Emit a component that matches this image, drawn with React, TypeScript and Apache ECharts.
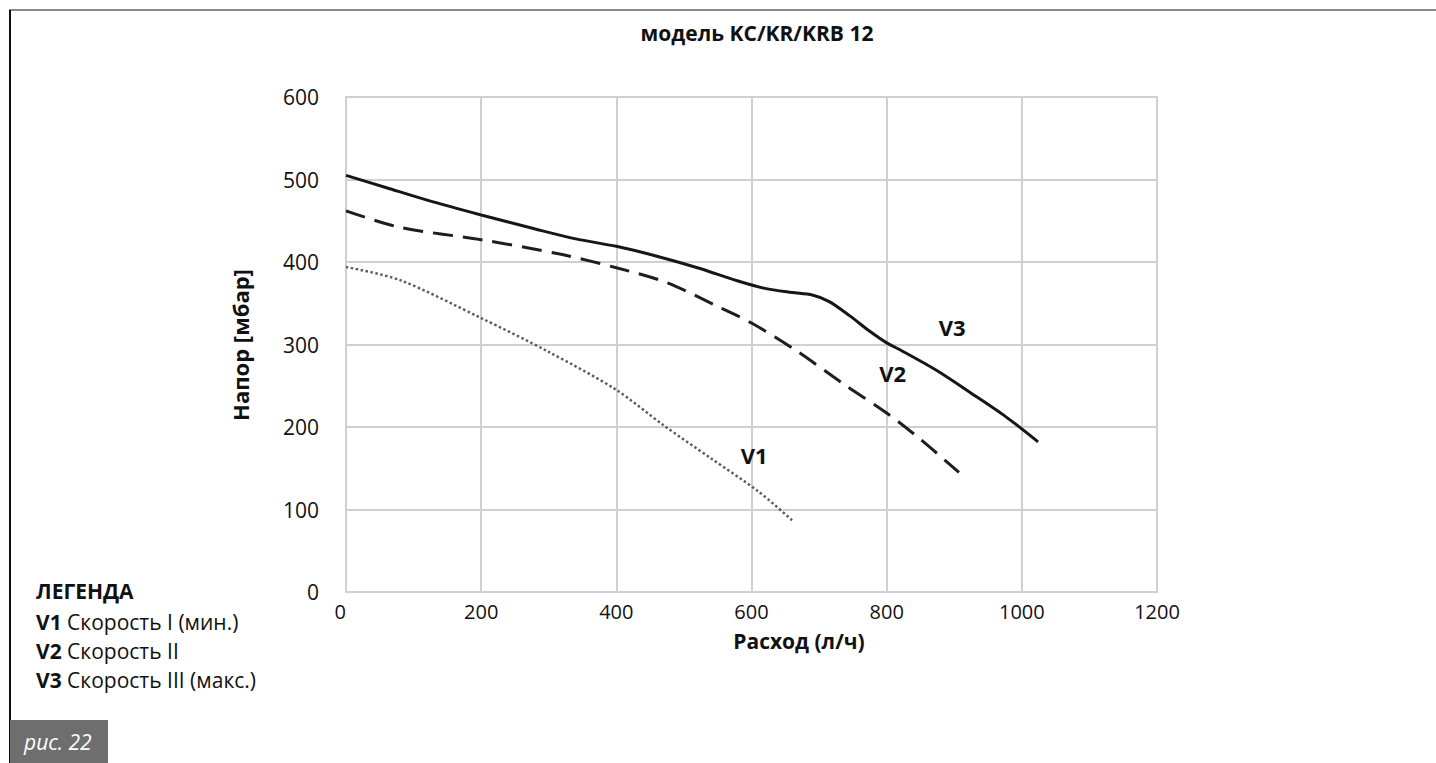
import React, { useEffect, useRef } from "react";
import * as echarts from "echarts";

const xTicks = [0, 200, 400, 600, 800, 1000, 1200];
const yTicks = [0, 100, 200, 300, 400, 500, 600];

const v1X = [0, 80, 200, 300, 400, 470, 540, 610, 660];
const v1Y = [394, 378, 332, 291, 245, 202, 162, 122, 87];

const v2X = [0, 80, 200, 320, 400, 475, 550, 600, 660, 740, 800, 850, 907];
const v2Y = [462, 442, 427, 409, 393, 375, 346, 326, 296, 250, 217, 185, 145];

const v3X = [0, 60, 120, 200, 280, 340, 400, 460, 520, 580, 620, 660, 690, 715, 745, 775, 800, 821, 873, 925, 977, 1024];
const v3Y = [505, 490, 475, 457, 440, 428, 419, 407, 393, 377, 368, 363, 360, 352, 335, 316, 302, 293, 269, 241, 212, 182];

const seriesNames = ["V1", "V2", "V3"];
const labelPos = [
  [604, 166],
  [809, 265],
  [897, 321],
];

const legendTitle = "ЛЕГЕНДА";
const legendItems = [
  ["V1", "Скорость I (мин.)"],
  ["V2", "Скорость II"],
  ["V3", "Скорость III (макс.)"],
];
const titleText = "модель KC/KR/KRB 12";
const xName = "Расход (л/ч)";
const yName = "Напор [мбар]";
const figText = "рис. 22";

const FONT = "'Open Sans', 'Noto Sans', sans-serif";

function pairs(xs: number[], ys: number[]) {
  return xs.map((x, i) => [x, ys[i]]);
}

export default function App() {
  const ref = useRef<HTMLDivElement>(null);
  useEffect(() => {
    if (!ref.current) return;
    const chart = echarts.init(ref.current, null, { renderer: "svg" });
    const mk = (i: number) => ({
      data: [
        {
          coord: labelPos[i],
          symbol: "rect",
          symbolSize: 1,
          itemStyle: { color: "rgba(0,0,0,0)" },
          label: {
            show: true,
            position: "inside",
            formatter: seriesNames[i],
            color: "#111",
            fontSize: 22,
            fontWeight: "bold",
            fontFamily: FONT,
          },
        },
      ],
    });
    const lineColors = ["#5e5e5e", "#1e1e1e", "#161616"];
    const lineTypes: any[] = [[2.5, 2.5], [20, 10], "solid"];
    const lineWidths = [2.5, 3, 3];
    const datas = [pairs(v1X, v1Y), pairs(v2X, v2Y), pairs(v3X, v3Y)];
    chart.setOption({
      animation: false,
      backgroundColor: "#ffffff",
      grid: {
        left: 346,
        top: 97,
        width: 811,
        height: 495,
        show: true,
        borderColor: "#d0d0d0",
        borderWidth: 2,
        backgroundColor: "transparent",
      },
      xAxis: {
        type: "value",
        min: xTicks[0],
        max: xTicks[xTicks.length - 1],
        interval: xTicks[1] - xTicks[0],
        axisLine: { show: false },
        axisTick: { show: false },
        axisLabel: {
          fontSize: 20,
          color: "#111",
          margin: 9,
          fontFamily: FONT,
          formatter: (v: number) => String(v),
          alignMinLabel: "right",
        },
        splitLine: { show: true, lineStyle: { color: "#d0d0d0", width: 2 } },
      },
      yAxis: {
        type: "value",
        min: yTicks[0],
        max: yTicks[yTicks.length - 1],
        interval: yTicks[1] - yTicks[0],
        axisLine: { show: false },
        axisTick: { show: false },
        axisLabel: {
          fontSize: 21,
          color: "#111",
          margin: 27,
          fontFamily: FONT,
          formatter: (v: number) => String(v),
        },
        splitLine: { show: true, lineStyle: { color: "#d0d0d0", width: 2 } },
      },
      series: [0, 1, 2].map((i) => ({
        type: "line",
        name: seriesNames[i],
        data: datas[i],
        smooth: 0.3,
        showSymbol: false,
        symbol: "none",
        lineStyle: { color: lineColors[i], width: lineWidths[i], type: lineTypes[i] },
        markPoint: mk(i),
        z: 3,
      })),
      graphic: [
        { type: "line", shape: { x1: 9, y1: 10, x2: 1436, y2: 10 }, style: { stroke: "#888888", lineWidth: 2 } },
        { type: "line", shape: { x1: 10, y1: 10, x2: 10, y2: 763 }, style: { stroke: "#111111", lineWidth: 2 } },
        {
          type: "text",
          x: 757,
          y: 33,
          style: {
            text: titleText,
            fontSize: 21,
            fontWeight: "bold",
            fontFamily: FONT,
            fill: "#111",
            align: "center",
            verticalAlign: "middle",
          },
        },
        {
          type: "text",
          x: 799,
          y: 641,
          style: {
            text: xName,
            fontSize: 21,
            fontWeight: "bold",
            fontFamily: FONT,
            fill: "#111",
            align: "center",
            verticalAlign: "middle",
          },
        },
        {
          type: "text",
          x: 240,
          y: 345,
          rotation: Math.PI / 2,
          style: {
            text: yName,
            fontSize: 22,
            fontWeight: "bold",
            fontFamily: FONT,
            fill: "#111",
            align: "center",
            verticalAlign: "middle",
          },
        },
        {
          type: "text",
          x: 36,
          y: 591,
          style: {
            text: legendTitle,
            fontSize: 21,
            fontWeight: "bold",
            fontFamily: FONT,
            fill: "#111",
            verticalAlign: "middle",
          },
        },
        ...legendItems.map((it, i) => ({
          type: "text",
          x: 36,
          y: 622 + i * 29,
          style: {
            text: `{b|${it[0]}} ${it[1]}`,
            fontSize: 21,
            fontFamily: FONT,
            fill: "#111",
            verticalAlign: "middle",
            rich: {
              b: { fontSize: 21, fontWeight: "bold", fontFamily: FONT, fill: "#111", color: "#111" },
            },
          },
        })),
        { type: "rect", shape: { x: 10, y: 720, width: 98, height: 43 }, style: { fill: "#6e6e6e" } },
        {
          type: "text",
          x: 24,
          y: 742,
          style: {
            text: figText,
            fontSize: 21,
            fontStyle: "italic",
            fontFamily: FONT,
            fill: "#ffffff",
            verticalAlign: "middle",
          },
        },
      ],
    });
    return () => chart.dispose();
  }, []);
  return (
    <div
      ref={ref}
      style={{ position: "absolute", left: 0, top: 0, width: 1436, height: 763, background: "#fff" }}
    />
  );
}
